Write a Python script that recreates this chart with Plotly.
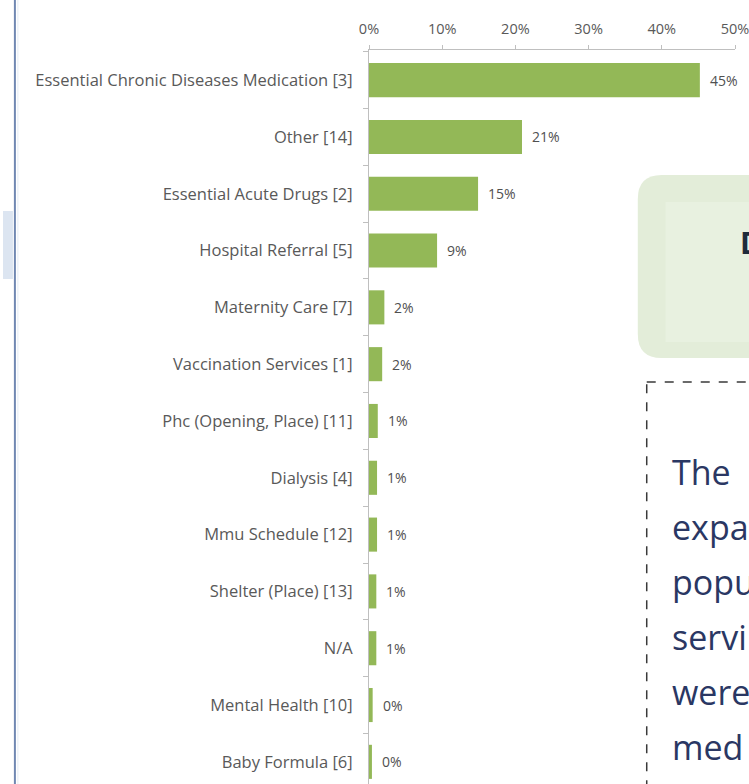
import plotly.graph_objects as go

categories = [
    "Essential Chronic Diseases Medication [3]",
    "Other [14]",
    "Essential Acute Drugs [2]",
    "Hospital Referral [5]",
    "Maternity Care [7]",
    "Vaccination Services [1]",
    "Phc (Opening, Place) [11]",
    "Dialysis [4]",
    "Mmu Schedule [12]",
    "Shelter (Place) [13]",
    "N/A",
    "Mental Health [10]",
    "Baby Formula [6]",
]
values = [45.2, 20.9, 14.9, 9.3, 2.1, 1.8, 1.2, 1.1, 1.1, 1.0, 1.0, 0.5, 0.4]
value_labels = ["45%", "21%", "15%", "9%", "2%", "2%", "1%", "1%", "1%", "1%", "1%", "0%", "0%"]
x_ticks = [0, 10, 20, 30, 40, 50]
x_tick_labels = ["0%", "10%", "20%", "30%", "40%", "50%"]
box_lines = ["The", "expa", "popu", "servi", "were", "med"]
callout_text = "D"

W, H = 749, 784
L, R, T, B = 369, 11, 50, 0
PW, PH = W - L - R, H - T - B

def px(x):
    return (x - L) / PW

def py(y):
    return 1 - (y - T) / PH

FONT = "Open Sans"
BAR = "#93B857"
GRAY = "#595959"

fig = go.Figure()
fig.add_trace(go.Bar(
    x=values, y=categories, orientation="h",
    marker=dict(color=BAR, line=dict(width=0)),
    hoverinfo="skip", showlegend=False,
))

for v, c, lab in zip(values, categories, value_labels):
    fig.add_annotation(x=v, y=c, xref="x", yref="y", text=lab, showarrow=False,
                       xanchor="left", xshift=8,
                       font=dict(family=FONT, size=14, color="#505050"))

shapes = []
# left slide border
shapes.append(dict(type="rect", xref="paper", yref="paper",
                   x0=px(0), x1=px(10), y0=py(211), y1=py(279),
                   fillcolor="#DCE5F1", line=dict(width=0), layer="below"))
shapes.append(dict(type="line", xref="paper", yref="paper",
                   x0=px(12), x1=px(12), y0=py(0), y1=py(784),
                   line=dict(color="#7088B2", width=2)))
shapes.append(dict(type="line", xref="paper", yref="paper",
                   x0=px(15), x1=px(15), y0=py(0), y1=py(784),
                   line=dict(color="#E4ECF5", width=1)))

# rounded green box
x0, x1, y0, y1, r = 640, 800, 175, 358, 24
def P(x, y):
    return f"{px(x):.5f},{py(y):.5f}"
path = (f"M {P(x0 + r, y0)} L {P(x1, y0)} L {P(x1, y1)} L {P(x0 + r, y1)} "
        f"Q {P(x0, y1)} {P(x0, y1 - r)} L {P(x0, y0 + r)} Q {P(x0, y0)} {P(x0 + r, y0)} Z")
shapes.append(dict(type="path", xref="paper", yref="paper", path=path,
                   fillcolor="#E3EDD9", line=dict(width=0), layer="below"))
shapes.append(dict(type="rect", xref="paper", yref="paper",
                   x0=px(668), x1=px(800), y0=py(202), y1=py(342),
                   fillcolor="#E8F1E0", line=dict(width=0), layer="below"))

# dashed box
shapes.append(dict(type="rect", xref="paper", yref="paper",
                   x0=px(649), x1=px(820), y0=py(382), y1=py(830),
                   fillcolor="rgba(0,0,0,0)", line=dict(color="#3A3A3A", width=1.5, dash="dash")))

fig.add_annotation(x=px(741), y=py(243), xref="paper", yref="paper", text=f"<b>{callout_text}</b>",
                   showarrow=False, xanchor="left", yanchor="middle",
                   font=dict(family=FONT, size=30, color="#1E2B3C"))

for i, t in enumerate(box_lines):
    fig.add_annotation(x=px(672), y=py(472 + 55 * i), xref="paper", yref="paper", text=t,
                       showarrow=False, xanchor="left", yanchor="middle",
                       font=dict(family=FONT, size=34, color="#2A3763"))

fig.update_layout(
    width=W, height=H,
    margin=dict(l=L, r=R, t=T, b=B, pad=0),
    paper_bgcolor="white", plot_bgcolor="white",
    bargap=0.4,
    shapes=shapes,
    font=dict(family=FONT, color=GRAY),
)
fig.update_xaxes(
    side="top", range=[0, 50], tickvals=x_ticks, ticktext=x_tick_labels,
    showgrid=False, zeroline=False, showline=True, linecolor="#BFBFBF", linewidth=1,
    ticks="outside", ticklen=4, tickcolor="#BFBFBF", ticklabelstandoff=5,
    ticklabeloverflow="allow",
    tickfont=dict(family=FONT, size=14.5, color=GRAY), fixedrange=True,
)
fig.update_yaxes(
    type="category", categoryorder="array", categoryarray=categories,
    range=[12.39, -0.53], autorange=False,
    showgrid=False, zeroline=False, showline=True, linecolor="#BFBFBF", linewidth=1,
    ticks="outside", ticklen=5, tickcolor="#BFBFBF", tickson="boundaries",
    ticklabelstandoff=12,
    tickfont=dict(family=FONT, size=16.5, color=GRAY), fixedrange=True,
)

fig.write_html("out.html", config={"displayModeBar": False},
               post_script="document.body.style.margin='0';document.body.style.overflow='hidden';")
